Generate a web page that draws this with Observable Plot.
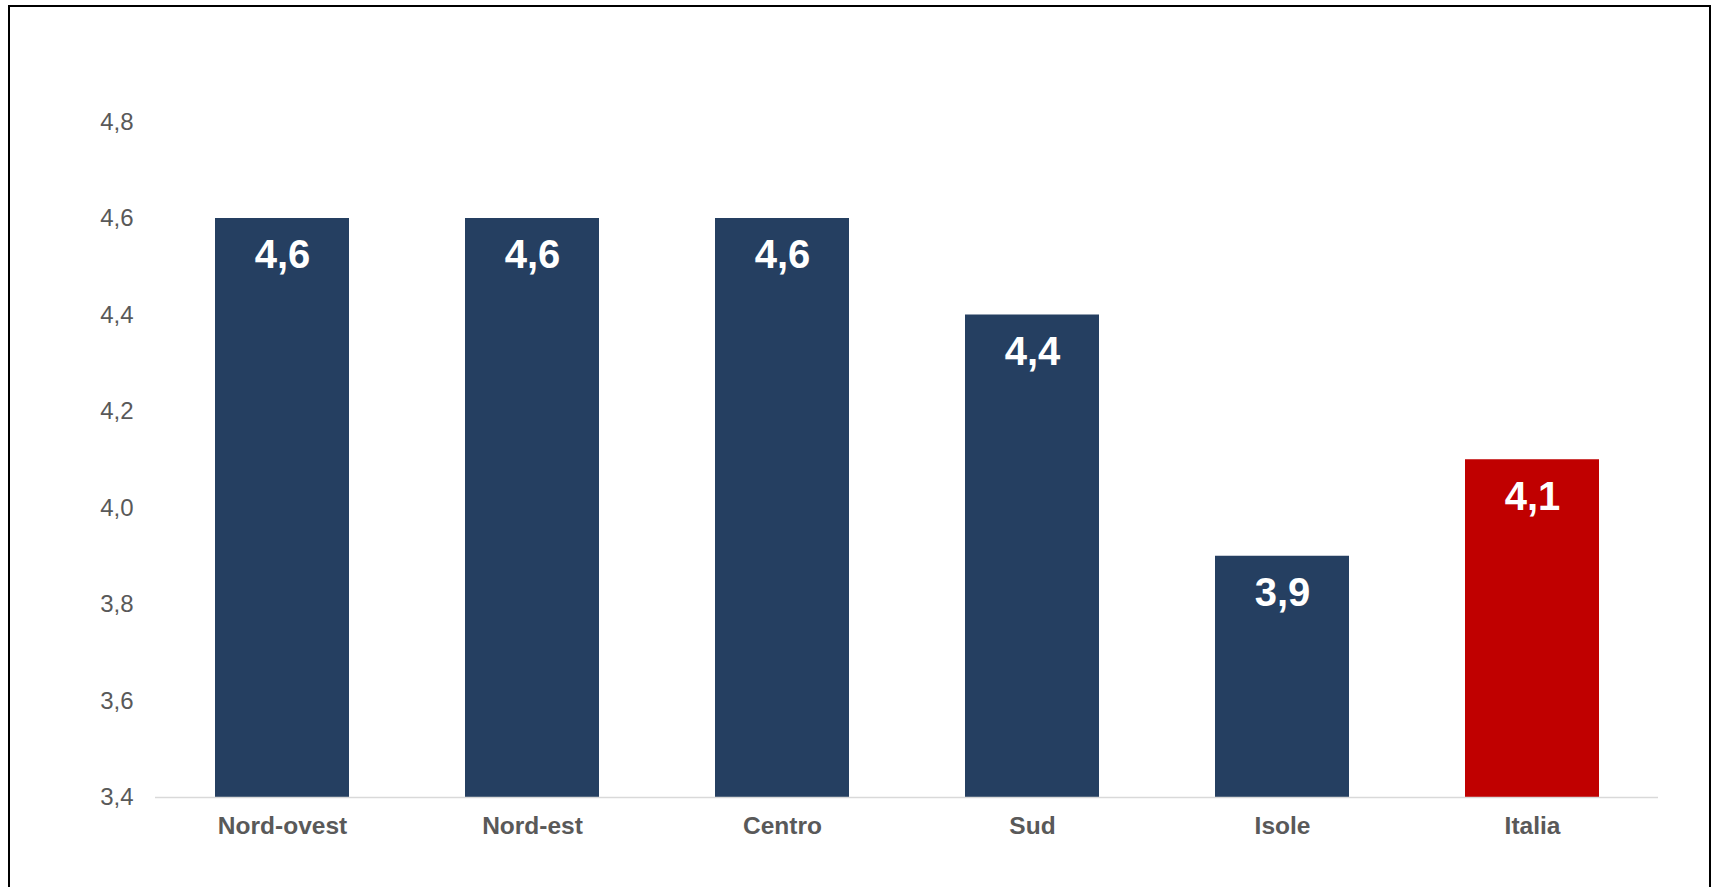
<!DOCTYPE html>
<html>
<head>
<meta charset="utf-8">
<script src="https://cdn.jsdelivr.net/npm/d3@7"></script>
<script src="https://cdn.jsdelivr.net/npm/@observablehq/plot@0.6"></script>
<style>
  html, body { margin: 0; padding: 0; background: #fff; overflow: hidden; }
  #wrap { position: relative; width: 1712px; height: 887px; }
  #frame { position: absolute; left: 8px; top: 5px; width: 1703px; height: 900px; border: 2px solid #000; box-sizing: border-box; pointer-events: none; }
  #chart { position: absolute; left: 0; top: 0; }
</style>
</head>
<body>
<div id="wrap"><div id="chart"></div><div id="frame"></div></div>
<script>
const regions = ["Nord-ovest", "Nord-est", "Centro", "Sud", "Isole", "Italia"];
const values = [4.6, 4.6, 4.6, 4.4, 3.9, 4.1];
const yTicks = [3.4, 3.6, 3.8, 4.0, 4.2, 4.4, 4.6, 4.8];
const highlight = "Italia";

const data = regions.map((r, i) => ({region: r, value: values[i]}));
const fmt = d => d.toFixed(1).replace(".", ",");
const navy = "#253F61", red = "#C00000";

const chart = Plot.plot({
  width: 1712,
  height: 887,
  marginLeft: 155,
  marginRight: 54,
  marginTop: 121.5,
  marginBottom: 90,
  style: {fontFamily: "'Liberation Sans', Arial, sans-serif", color: "#595959", background: "transparent"},
  x: {domain: regions, paddingInner: 0.465, paddingOuter: 0.2325},
  y: {domain: [yTicks[0], yTicks[yTicks.length - 1]]},
  marks: [
    Plot.barY(data, {x: "region", y: "value", fill: d => d.region === highlight ? red : navy, clip: true}),
    Plot.ruleY([yTicks[0]], {stroke: "#d9d9d9", strokeWidth: 1.5}),
    Plot.text(data, {x: "region", y: "value", text: d => fmt(d.value), fill: "#fff", fontSize: 40, fontWeight: "bold", dy: 37}),
    Plot.axisY({ticks: yTicks, tickFormat: fmt, tickSize: 0, tickPadding: 22, fontSize: 24, label: null}),
    Plot.axisX({tickSize: 0, tickPadding: 19.5, fontSize: 24.5, fontWeight: "bold", label: null})
  ]
});
document.getElementById("chart").appendChild(chart);
</script>
</body>
</html>
